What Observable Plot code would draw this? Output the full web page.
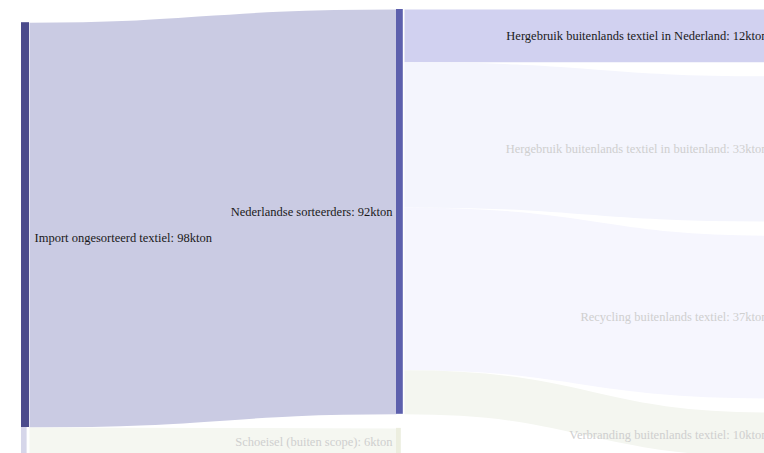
<!DOCTYPE html>
<html>
<head>
<meta charset="utf-8">
<script src="https://cdn.jsdelivr.net/npm/d3@7"></script>
<script src="https://cdn.jsdelivr.net/npm/@observablehq/plot@0.6"></script>
<style>
  html, body { margin: 0; padding: 0; overflow: hidden; background: #fff; }
  #chart svg { overflow: hidden; display: block; }
</style>
</head>
<body>
<div id="chart"></div>
<script>
// ---- data ----
const nodeNames = [
  "Import ongesorteerd textiel",
  "Nederlandse sorteerders",
  "Schoeisel (buiten scope)",
  "Hergebruik buitenlands textiel in Nederland",
  "Hergebruik buitenlands textiel in buitenland",
  "Recycling buitenlands textiel",
  "Verbranding buitenlands textiel"
];
const nodeValues = [98, 92, 6, 12, 33, 37, 10];
const nodeColumns = [0, 1, 1, 2, 2, 2, 2];
const nodeHighlighted = [true, true, false, false, false, false, false];
const nodeColors = ["#4b4b8c", "#5d60ad", "#eceedf", "#6468b4", "#6468b4", "#6468b4", "#8aa070"];

const linkSources = [0, 0, 1, 1, 1, 1];
const linkTargets = [1, 2, 3, 4, 5, 6];
const linkValues  = [92, 6, 12, 33, 37, 10];
const linkColors  = ["#cacbe3", "#f5f7f1", "#d1d1f0", "#f4f5fd", "#f6f6fe", "#f4f6f0"];

// ---- layout constants ----
const W = 764, H = 453;
const columnOffsets = [3, 0, 0];   // kton offset of each column's first node
const nodePad = 3.2;               // kton gap between nodes in a column
const yDomain = [-9 / 4.4, (H - 9) / 4.4];
const k = H / (yDomain[1] - yDomain[0]); // px per kton
const xRange = [21, 771];
const nodeW = 8 / ((xRange[1] - xRange[0]) / 2);

// ---- compute sankey layout ----
const nodes = nodeNames.map((name, i) => ({
  name, value: nodeValues[i], col: nodeColumns[i], hi: nodeHighlighted[i], color: nodeColors[i]
}));
const colCursor = {};
nodes.forEach(n => {
  if (colCursor[n.col] === undefined) colCursor[n.col] = columnOffsets[n.col];
  n.y0 = colCursor[n.col];
  n.y1 = n.y0 + n.value;
  colCursor[n.col] = n.y1 + nodePad;
  n.outCursor = n.y0;
  n.inCursor = n.y0;
});
const links = linkSources.map((s, i) => {
  const src = nodes[s], tgt = nodes[linkTargets[i]];
  const v = linkValues[i];
  const sy = src.outCursor + v / 2; src.outCursor += v;
  const ty = tgt.inCursor + v / 2; tgt.inCursor += v;
  return {
    x1: src.col + nodeW, y1: sy, x2: tgt.col, y2: ty,
    value: v, width: v * k, color: linkColors[i]
  };
});

// node segments: import node split into highlighted outflow part and faded remainder
const nodeRects = [];
nodes.forEach((n, i) => {
  if (i === 0) {
    nodeRects.push({x1: n.col, x2: n.col + nodeW, y1: n.y0, y2: n.y0 + linkValues[0], color: n.color});
    nodeRects.push({x1: n.col, x2: n.col + nodeW * 0.7, y1: n.y0 + linkValues[0], y2: n.y1, color: "#d6d6ea"});
  } else if (n.col === 1) {
    nodeRects.push({x1: n.col, x2: n.col + nodeW * (n.hi ? 0.85 : 0.6), y1: n.y0, y2: n.y1, color: n.color});
  } else {
    nodeRects.push({x1: n.col, x2: n.col + nodeW, y1: n.y0, y2: n.y1, color: n.color});
  }
});

const labels = nodes.map((n, i) => ({
  text: `${n.name}: ${n.value}kton`,
  x: n.col === 0 ? n.col + nodeW : n.col,
  y: (n.y0 + n.y1) / 2,
  anchor: n.col === 0 ? "start" : "end",
  fill: (n.hi || i === 3) ? "#1a1a1a" : "#cfcfcf"
}));

const FONT = "Liberation Serif";
const plot = Plot.plot({
  width: W, height: H,
  marginTop: 0, marginBottom: 0, marginLeft: 0, marginRight: 0,
  x: {domain: [0, 2], range: xRange, axis: null},
  y: {domain: yDomain, range: [0, H], axis: null},
  style: {fontFamily: FONT, fontSize: "12.5px", background: "#fff"},
  marks: [
    Plot.link(links, {
      x1: "x1", y1: "y1", x2: "x2", y2: "y2",
      curve: "bump-x", stroke: "color", strokeWidth: "width", strokeOpacity: 1,
      strokeLinecap: "butt"
    }),
    Plot.rect(nodeRects, {x1: "x1", x2: "x2", y1: "y1", y2: "y2", fill: "color"}),
    Plot.text(labels.filter(l => l.anchor === "start"), {
      x: "x", y: "y", text: "text", textAnchor: "start", dx: 5, fill: "fill",
      fontSize: 12.5, fontFamily: FONT
    }),
    Plot.text(labels.filter(l => l.anchor === "end"), {
      x: "x", y: "y", text: "text", textAnchor: "end", dx: -4, fill: "fill",
      fontSize: 12.5, fontFamily: FONT
    })
  ]
});
document.getElementById("chart").appendChild(plot);
</script>
</body>
</html>
